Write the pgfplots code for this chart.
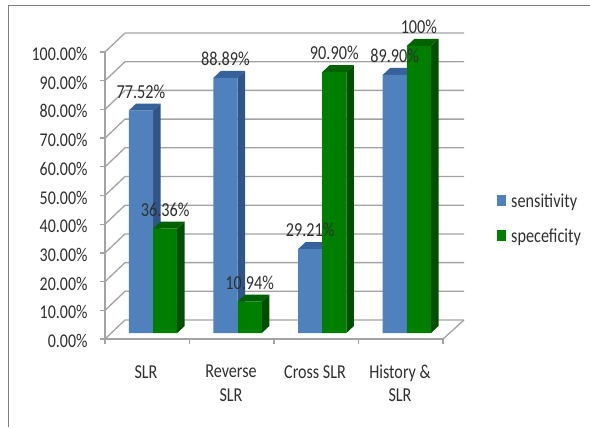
\documentclass[border=0pt]{standalone}
\usepackage{graphicx}
\usepackage{pgfplots}
\usepackage{pgfplotstable}
\pgfplotsset{compat=1.18}
\usepackage{fontspec}
\setmainfont{Carlito}
\definecolor{blueFront}{HTML}{4F81BD}
\definecolor{blueSide}{HTML}{2F5587}
\definecolor{blueTop}{HTML}{35629B}
\definecolor{greenFront}{HTML}{007E00}
\definecolor{greenSide}{HTML}{004F00}
\definecolor{greenTop}{HTML}{006200}
\definecolor{wallGray}{HTML}{A3A3A3}
\definecolor{inkGray}{HTML}{303030}
% depth of the extruded bars, in axis units
\newcommand{\depthx}{7.5}
\newcommand{\depthy}{2.44}
% side and top faces of one extruded bar: {left edge}{right edge}{value}{side}{top}
\newcommand{\barfaces}[5]{%
  \pgfmathsetmacro{\xa}{#1+\depthx}%
  \pgfmathsetmacro{\xb}{#2+\depthx}%
  \pgfmathsetmacro{\vb}{#3+\depthy}%
  \edef\facecmd{\noexpand\addplot[fill=#4,draw=none,forget plot,yshift=6bp]
    coordinates {(#2,0) (\xb,\depthy) (\xb,\vb) (#2,#3)};
    \noexpand\addplot[fill=#5,draw=none,forget plot,yshift=6bp]
    coordinates {(#1,#3) (#2,#3) (\xb,\vb) (\xa,\vb)};}%
  \facecmd}
\pgfplotstableread{
x v label
48 77.52 77.52\%
132.6 88.89 88.89\%
217.2 29.21 29.21\%
301.8 89.90 89.90\%
}\sensitivity
\pgfplotstableread{
x v label
48 36.36 36.36\%
132.6 10.94 10.94\%
217.2 90.90 90.90\%
301.8 100 100\%
}\specificity
\pgfplotsset{
  value label/.style={draw=none,no marks,forget plot,yshift=6bp,
    point meta=explicit symbolic,
    nodes near coords,
    every node near coord/.append style={font=\fontsize{16.3}{19}\selectfont,text=inkGray,
      anchor=center,yshift=19bp,inner sep=0pt,yscale=1.22,transform shape}},
}
\begin{document}
\begin{tikzpicture}[x=1bp,y=1bp]
\useasboundingbox (0,0) rectangle (590,427);
\fill[white] (0,0) rectangle (590,427);
% outer frame, running off the page at the right and the bottom
\draw[gray,line width=1.1bp] (8.5,0) -- (8.5,421.5) -- (590,421.5);
\begin{axis}[
  at={(105bp,88bp)},anchor=south west,
  width=338bp,height=287bp,scale only axis,
  xmin=0,xmax=338,ymin=0,ymax=100,
  clip=false,
  axis x line*=bottom,axis y line*=left,
  axis line style={wallGray,line width=1.3bp,-},
  tick style={wallGray,line width=1.3bp},
  tick align=outside,
  major tick length=5bp,
  minor tick length=0pt,
  ytick={0,10,...,100},
  /pgf/number format/assume math mode=true,
  /pgf/number format/fixed,
  /pgf/number format/fixed zerofill,
  /pgf/number format/precision=2,
  yticklabel={\pgfmathprintnumber{\tick}\%},
  ticklabel style={font=\fontsize{16}{19}\selectfont,text=inkGray},
  y tick label style={xshift=-9bp,yshift=-2bp,yscale=1.22,transform shape},
  xtick={0,84.5,169,253.5,338},
  xticklabels={},
  extra x ticks={41,126,210,295},
  extra x tick labels={SLR,{Reverse\\SLR},Cross SLR,{History \&\\SLR}},
  extra x tick style={major tick length=0pt,
    tick label style={align=center,font=\fontsize{16.2}{19}\selectfont,text=inkGray,
      yshift=-22bp,yscale=1.22,transform shape}},
  legend cell align=left,
  legend style={draw=none,fill=none,at={(axis cs:389,52.1)},anchor=north west,
    font=\fontsize{16.3}{19}\selectfont,text=inkGray,row sep=16bp},
  legend image code/.code={\fill[#1] (0bp,-11bp) rectangle (9bp,0bp);},
]
% back wall and left wall gridlines
\pgfplotsinvokeforeach{0,10,...,100}{
  \draw[wallGray,line width=1.3bp] (axis cs:0,#1) -- (axis cs:20,#1+6.62) -- (axis cs:359,#1+6.62);
}
\draw[wallGray,line width=1.3bp] (axis cs:338,0) -- (axis cs:359,6.62);

% sensitivity: extruded faces, then the front faces
\barfaces{23.8}{48}{77.52}{blueSide}{blueTop}
\barfaces{108.4}{132.6}{88.89}{blueSide}{blueTop}
\barfaces{193}{217.2}{29.21}{blueSide}{blueTop}
\barfaces{277.6}{301.8}{89.90}{blueSide}{blueTop}
\addplot[ybar,bar width=24.2,bar shift=-12.1,fill=blueFront,draw=none,yshift=6bp]
  table[x=x,y=v] {\sensitivity};
\addlegendentry{\kern3bp\scalebox{1}[1.22]{sensitivity}}

% specificity: extruded faces, then the front faces
\barfaces{48}{72.2}{36.36}{greenSide}{greenTop}
\barfaces{132.6}{156.8}{10.94}{greenSide}{greenTop}
\barfaces{217.2}{241.4}{90.90}{greenSide}{greenTop}
\barfaces{301.8}{326}{100}{greenSide}{greenTop}
\addplot[ybar,bar width=24.2,bar shift=12.1,fill=greenFront,draw=none,yshift=6bp]
  table[x=x,y=v] {\specificity};
\addlegendentry{\kern3bp\scalebox{1}[1.22]{speceficity}}

% value labels stay above every bar, so they are set last
\addplot[value label] table[x expr=\thisrow{x}-12.1,y=v,meta=label] {\sensitivity};
\addplot[value label] table[x expr=\thisrow{x}+12.1,y=v,meta=label] {\specificity};
\end{axis}
\end{tikzpicture}
\end{document}
